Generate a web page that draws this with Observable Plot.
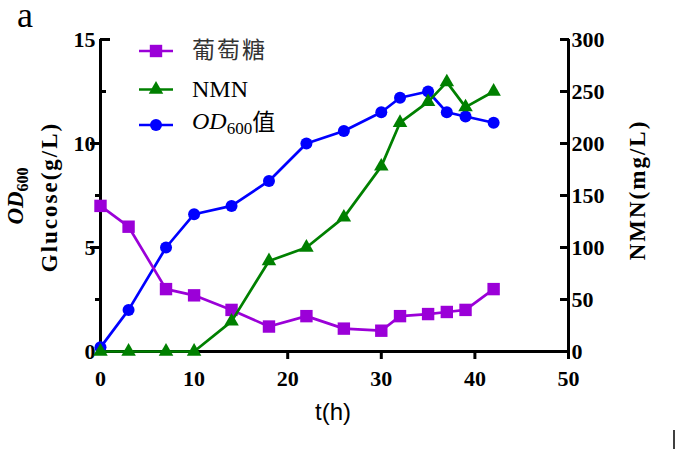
<!DOCTYPE html>
<html><head><meta charset="utf-8">
<script src="https://cdn.jsdelivr.net/npm/d3@7"></script>
<script src="https://cdn.jsdelivr.net/npm/@observablehq/plot@0.6"></script>
<style>body{margin:0;background:#fff}</style>
</head><body><div id="chart"></div>
<script>
// ---- data ----
const hours   = [0, 3, 7, 10, 14, 18, 22, 26, 30, 32, 35, 37, 39, 42];
const glucose = [7.0, 6.0, 3.0, 2.7, 2.0, 1.2, 1.7, 1.1, 1.0, 1.7, 1.8, 1.9, 2.0, 3.0];   // g/L (left axis)
const nmn     = [0, 0, 0, 0, 29, 87, 100, 129, 178, 220, 240, 259, 235, 250];            // mg/L (right axis)
const od600   = [0.2, 2.0, 5.0, 6.6, 7.0, 8.2, 10.0, 10.6, 11.5, 12.2, 12.5, 11.5, 11.3, 11.0];
const xTicks = [0, 10, 20, 30, 40, 50];
const xTickMarks = [20, 30, 40, 50];
const leftTicks = [0, 5, 10, 15];
const leftMinor = [2.5, 7.5];
const rightTicks = [0, 50, 100, 150, 200, 250, 300];
const seriesNames = ["葡萄糖", "NMN", "OD600值"];

const purple = "#9B00D8", green = "#008000", blue = "#0000FF";
const ratio = 300 / 15; // right axis units per left axis unit
const rows = hours.map((t, i) => ({t, glucose: glucose[i], nmn: nmn[i], od: od600[i]}));

const serif = "'Times New Roman', 'Liberation Serif', serif";
const tickText = {fontSize: 22, fontWeight: "bold", fontFamily: serif, fill: "#000", label: null};
const tickOnly = {fill: "none", stroke: "#000", strokeWidth: 3, label: null};

const chart = Plot.plot({
  width: 679, height: 452,
  marginLeft: 100, marginRight: 111, marginTop: 39, marginBottom: 101,
  style: {background: "#fff", overflow: "visible", fontFamily: serif},
  x: {domain: [0, 50], label: null},
  y: {domain: [0, 15], label: null},
  marks: [
    Plot.axisX(xTicks, {...tickText, tickSize: 0, tickPadding: 19}),
    Plot.axisX(xTickMarks, {...tickOnly, tickSize: 8}),
    Plot.axisY(leftTicks, {...tickText, tickSize: 0, tickPadding: 5}),
    Plot.axisY([5, 10], {...tickOnly, tickSize: 10}),
    Plot.axisY(leftMinor, {...tickOnly, tickSize: 5}),
    Plot.axisY([15], {...tickOnly, tickSize: 10, dx: 10}),
    Plot.axisY([12.5], {...tickOnly, tickSize: 6, dx: 6}),
    Plot.axisY(rightTicks.map(v => v / ratio), {...tickText, anchor: "right", tickSize: 0, tickPadding: 3, tickFormat: d => Math.round(d * ratio)}),
    Plot.axisY(rightTicks.slice(1).map(v => v / ratio), {...tickOnly, anchor: "right", tickSize: 9, dx: -9}),
    Plot.ruleX([0], {stroke: "#000", strokeWidth: 3}),
    Plot.ruleX([50], {stroke: "#000", strokeWidth: 3, insetBottom: -5}),
    Plot.ruleY([0], {stroke: "#000", strokeWidth: 3}),
    Plot.line(rows, {x: "t", y: "od", stroke: blue, strokeWidth: 2.7}),
    Plot.dot(rows, {x: "t", y: "od", symbol: "circle", r: 6, fill: blue, stroke: null}),
    Plot.line(rows, {x: "t", y: "glucose", stroke: purple, strokeWidth: 2.7}),
    Plot.dot(rows, {x: "t", y: "glucose", symbol: "square", r: 7, fill: purple, stroke: null}),
    Plot.line(rows, {x: "t", y: d => d.nmn / ratio, stroke: green, strokeWidth: 2.7}),
    Plot.dot(rows, {x: "t", y: d => d.nmn / ratio, symbol: "triangle", r: 5.4, fill: green, stroke: null})
  ]
});
document.getElementById("chart").appendChild(chart);

const svg = d3.select(chart);
// panel letter
svg.append("text").attr("x", 17).attr("y", 27).attr("text-anchor", "start")
  .attr("font-family", serif).attr("font-size", 36).text("a");
// left axis titles
const lt = svg.append("text").attr("transform", "translate(19,196) rotate(-90)")
  .attr("text-anchor", "middle").attr("dy", "0.35em").attr("font-family", serif).attr("font-weight", "bold");
lt.append("tspan").attr("font-style", "italic").attr("font-size", 23).text("OD");
lt.append("tspan").attr("font-size", 16).attr("dy", 5).text("600");
svg.append("text").attr("transform", "translate(49,197) rotate(-90)")
  .attr("text-anchor", "middle").attr("dy", "0.35em").attr("font-family", serif).attr("font-weight", "bold")
  .attr("font-size", 23).attr("letter-spacing", 2).text("Glucose(g/L)");
// right axis title
svg.append("text").attr("transform", "translate(637,190) rotate(-90)")
  .attr("text-anchor", "middle").attr("dy", "0.35em").attr("font-family", serif).attr("font-weight", "bold")
  .attr("font-size", 23).attr("letter-spacing", 2).text("NMN(mg/L)");
// x axis title
svg.append("text").attr("x", 333).attr("y", 420).attr("text-anchor", "middle")
  .attr("font-family", "Liberation Sans, Arial, sans-serif").attr("font-size", 24).text("t(h)");

// legend
const legend = [
  {y: 51, color: purple, sym: d3.symbolSquare, r: 7},
  {y: 89.5, color: green, sym: d3.symbolTriangle, r: 5.4},
  {y: 125, color: blue, sym: d3.symbolCircle, r: 6}
];
legend.forEach(l => {
  svg.append("line").attr("x1", 139).attr("x2", 173).attr("y1", l.y).attr("y2", l.y)
    .attr("stroke", l.color).attr("stroke-width", 2.7);
  svg.append("path").attr("transform", `translate(156,${l.y})`)
    .attr("d", d3.symbol().type(l.sym).size(Math.PI * l.r * l.r)()).attr("fill", l.color);
});
svg.append("text").attr("x", 192).attr("y", 58).attr("text-anchor", "start").attr("font-family", "Noto Sans CJK SC, sans-serif")
  .attr("font-size", 23).attr("fill", "#333").attr("letter-spacing", 2).text(seriesNames[0]);
svg.append("text").attr("x", 192).attr("y", 97).attr("text-anchor", "start").attr("font-family", serif)
  .attr("font-size", 24).text(seriesNames[1]);
const od = svg.append("text").attr("x", 192).attr("y", 129).attr("text-anchor", "start").attr("font-family", serif).attr("font-size", 24);
od.append("tspan").attr("font-style", "italic").text(seriesNames[2].slice(0, 2));
od.append("tspan").attr("font-size", 17).attr("dy", 5).text(seriesNames[2].slice(2, 5));
od.append("tspan").attr("font-family", "Noto Sans CJK SC, sans-serif").attr("font-size", 23).attr("dy", -4).text(seriesNames[2].slice(5));
// small stray mark at bottom right of the reference
svg.append("line").attr("x1", 674).attr("x2", 674).attr("y1", 430).attr("y2", 449).attr("stroke", "#000").attr("stroke-width", 1.5);
</script>
</body></html>
